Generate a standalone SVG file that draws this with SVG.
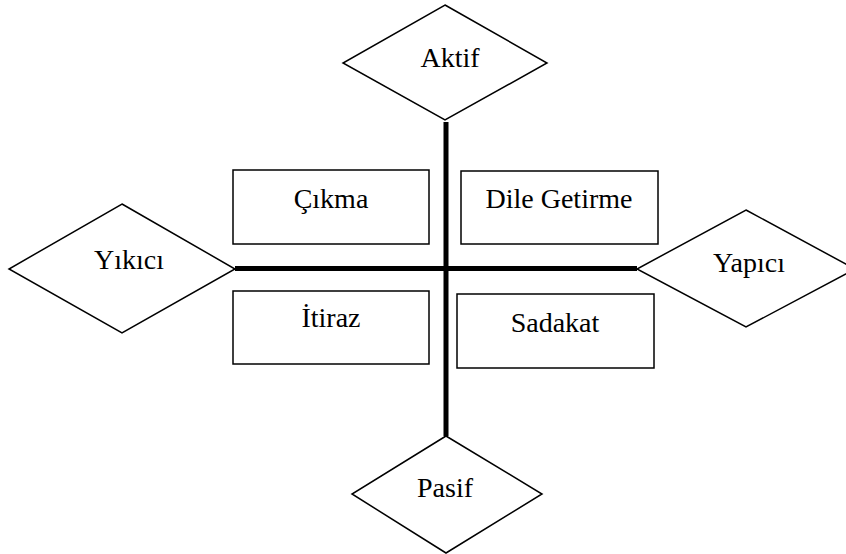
<svg xmlns="http://www.w3.org/2000/svg" width="846" height="554" viewBox="0 0 846 554">
<style>
.shape{fill:#fff;stroke:#000;stroke-width:1.5}
.lbl{font-family:"Liberation Serif","Times New Roman","DejaVu Serif",serif;font-size:28px;fill:#000;text-anchor:middle}
.axis{stroke:#000;stroke-width:5;fill:none}
</style>
<rect width="846" height="554" fill="#fff"/>
<g id="connectors">
<line class="axis" x1="446" y1="122" x2="446" y2="436"/>
<line class="axis" x1="235" y1="268.5" x2="637" y2="268.5"/>
</g>
<g id="aktif">
<polygon class="shape" points="445,5 547,63 445,120 343,63"/>
<text class="lbl" x="450" y="67">Aktif</text>
</g>
<g id="yikici">
<polygon class="shape" points="122,204 235,269 122,333 9,269"/>
<text class="lbl" x="129" y="269">Yıkıcı</text>
</g>
<g id="yapici">
<polygon class="shape" points="746,210 855,269 746,327 637,269"/>
<text class="lbl" x="749" y="272">Yapıcı</text>
</g>
<g id="pasif">
<polygon class="shape" points="446,436 542,494 446,553 352,494"/>
<text class="lbl" x="445" y="497">Pasif</text>
</g>
<g id="cikma">
<rect class="shape" x="233" y="170" width="196" height="74"/>
<text class="lbl" x="331" y="208">Çıkma</text>
</g>
<g id="dile-getirme">
<rect class="shape" x="461" y="171" width="197" height="73"/>
<text class="lbl" x="559" y="208">Dile Getirme</text>
</g>
<g id="itiraz">
<rect class="shape" x="233" y="291" width="196" height="73"/>
<text class="lbl" x="331" y="327">İtiraz</text>
</g>
<g id="sadakat">
<rect class="shape" x="457" y="294" width="197" height="74"/>
<text class="lbl" x="555" y="332">Sadakat</text>
</g>
</svg>
